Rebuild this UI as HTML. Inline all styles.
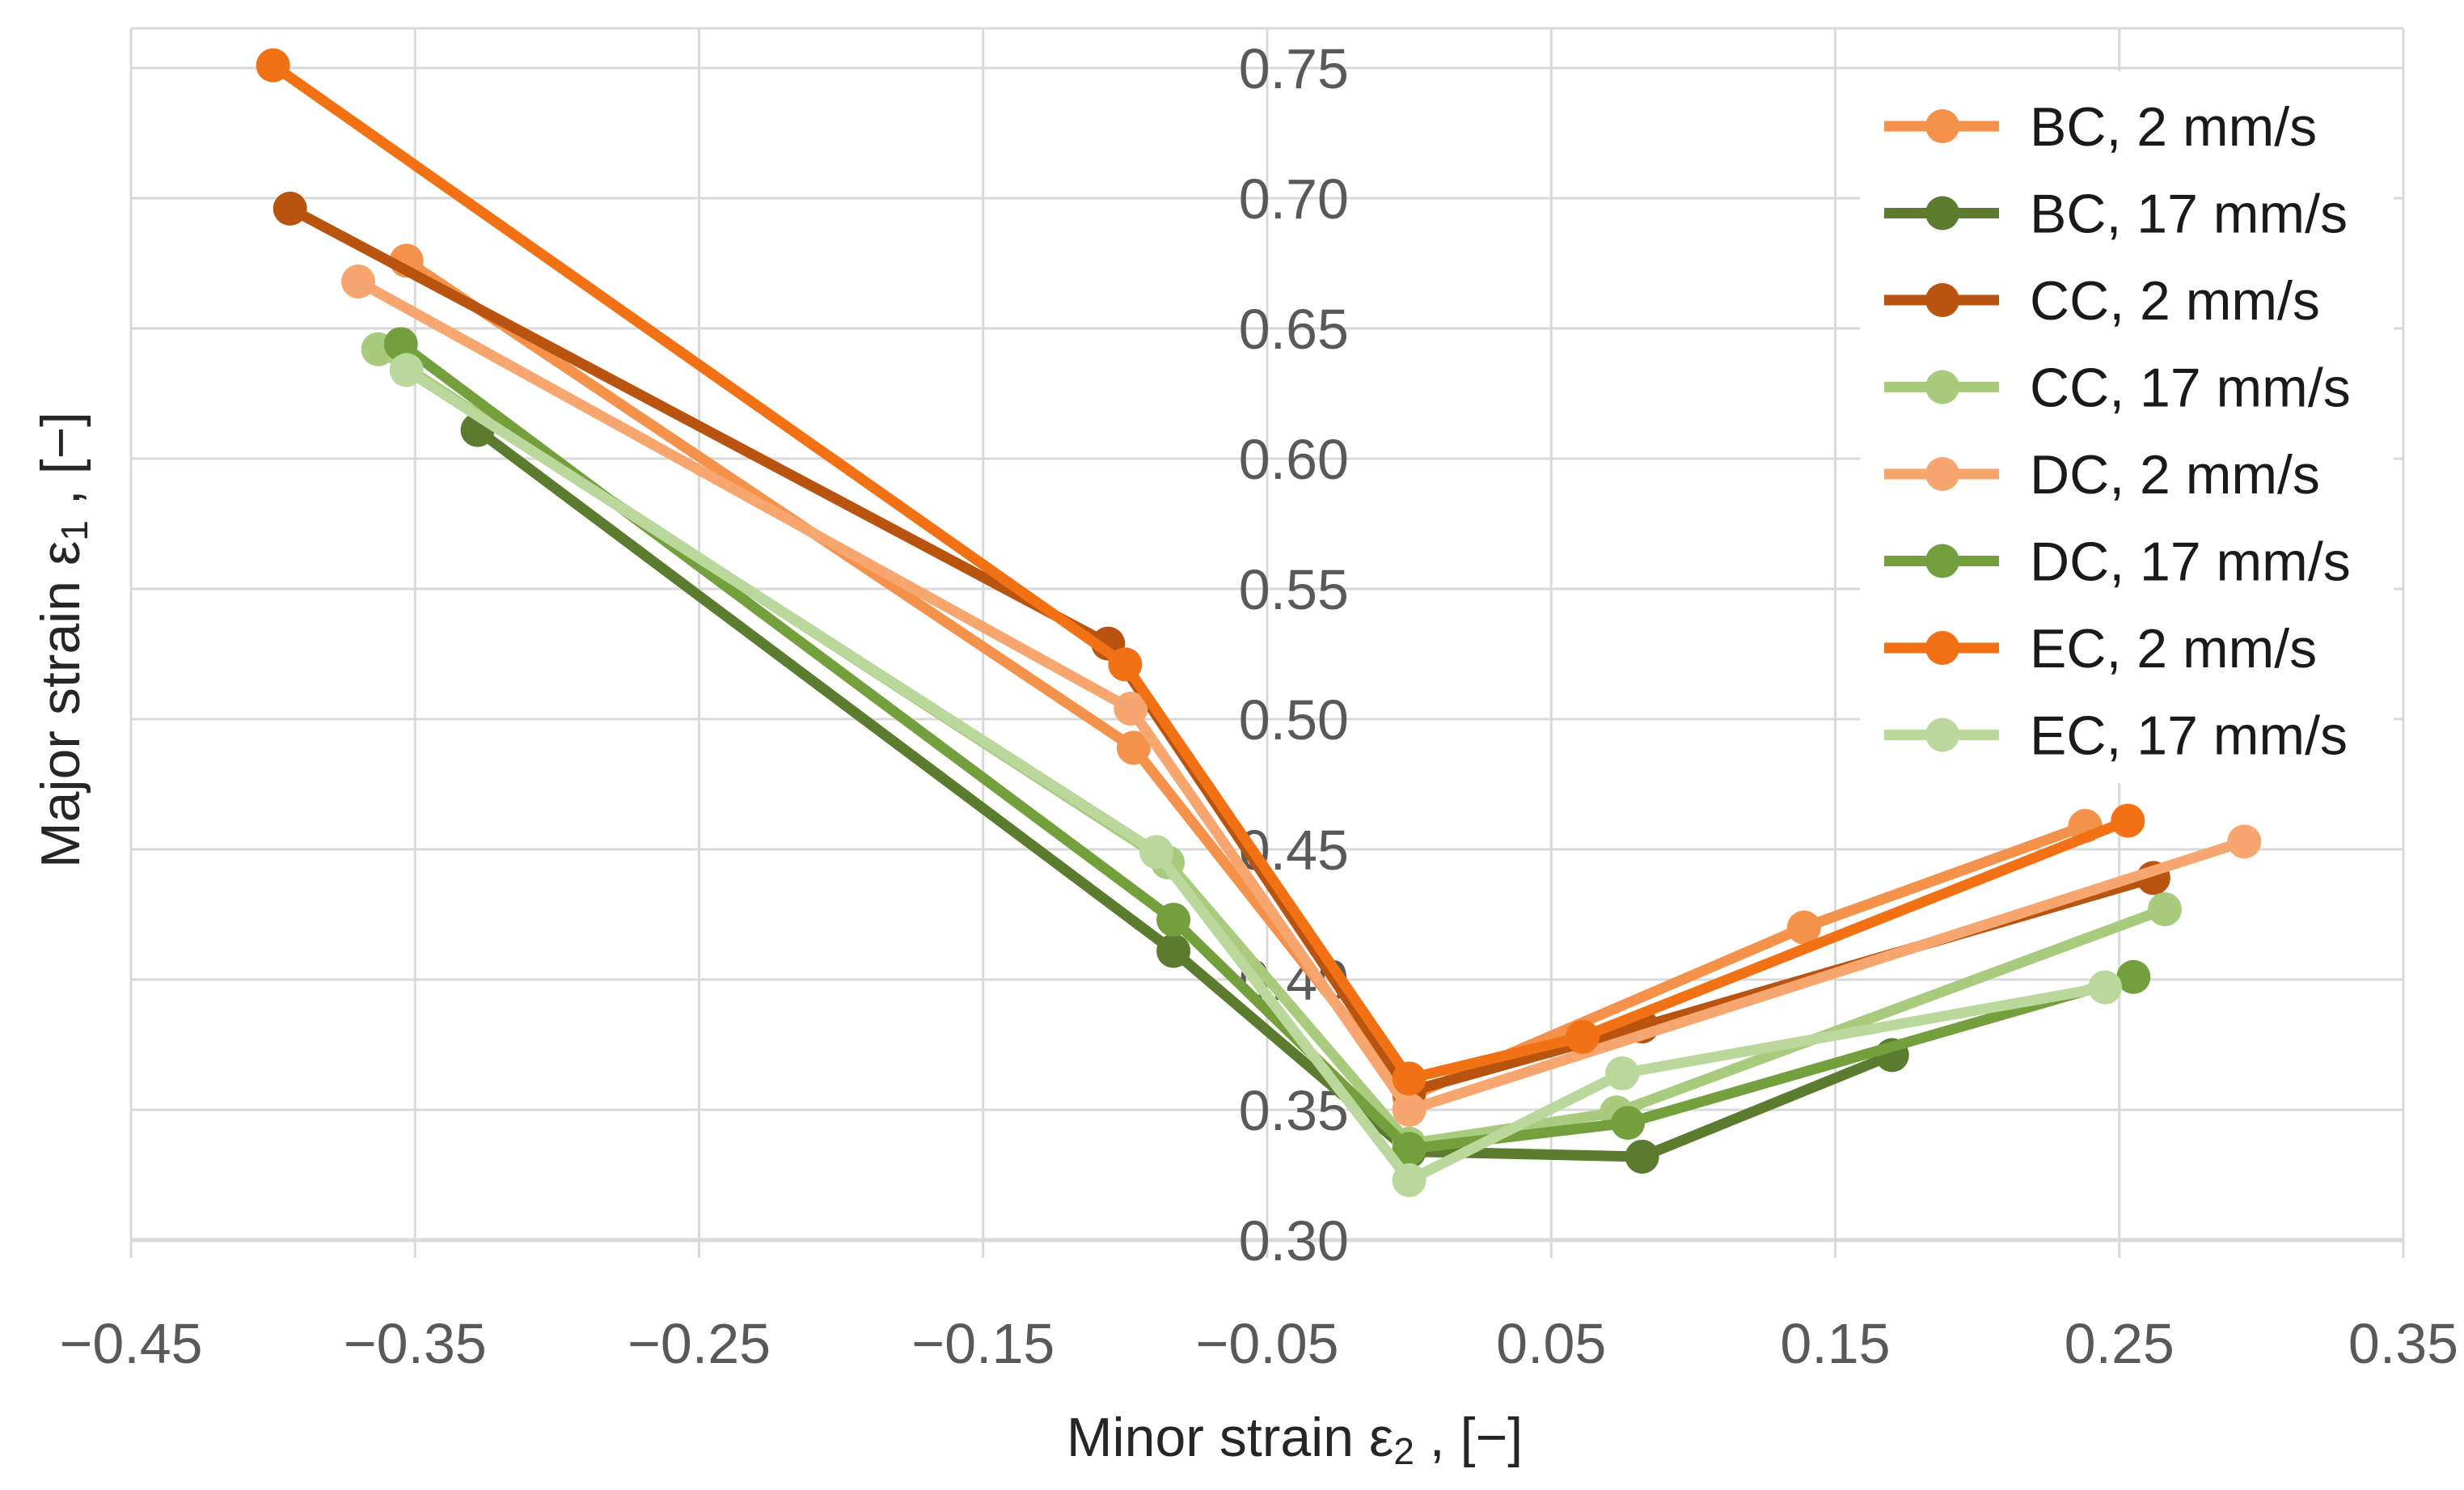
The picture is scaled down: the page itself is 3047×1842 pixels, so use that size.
<!DOCTYPE html>
<html><head><meta charset="utf-8"><style>
html,body{margin:0;padding:0;background:#fff;}
svg{display:block;font-family:"Liberation Sans",sans-serif;}
</style></head><body>
<svg id="chart" width="3047" height="1842" viewBox="0 0 3047 1842" xmlns="http://www.w3.org/2000/svg">
<rect x="0" y="0" width="3047" height="1842" fill="#fff"/>
<g id="grid"></g>
<g id="ylabels"></g>
<g id="xlabels"></g>
<g id="series"></g>
<g id="legend"></g>
<text x="1601" y="1800" font-size="68" fill="#262626" text-anchor="middle">Minor strain ε<tspan font-size="46" dy="10">2</tspan><tspan dy="-10"> , [−]</tspan></text>
<text transform="translate(98,791) rotate(-90)" font-size="68" fill="#262626" text-anchor="middle">Major strain ε<tspan font-size="46" dy="10">1</tspan><tspan dy="-10"> , [−]</tspan></text>
</svg>
<script>
const xTicks = [-0.45,-0.35,-0.25,-0.15,-0.05,0.05,0.15,0.25,0.35];
const xTickLabels = ["−0.45","−0.35","−0.25","−0.15","−0.05","0.05","0.15","0.25","0.35"];
const yTicks = [0.30,0.35,0.40,0.45,0.50,0.55,0.60,0.65,0.70,0.75];
const yTickLabels = ["0.30","0.35","0.40","0.45","0.50","0.55","0.60","0.65","0.70","0.75"];
const seriesNames = ["BC, 2 mm/s","BC, 17 mm/s","CC, 2 mm/s","CC, 17 mm/s","DC, 2 mm/s","DC, 17 mm/s","EC, 2 mm/s","EC, 17 mm/s"];
const seriesColors = ["#F4914A","#5B7B2E","#B8540F","#A8CB7E","#F8A66F","#73A03C","#F27114","#BBD89C"];
const bc2X = [-0.353,-0.097,0.000,0.139,0.238];
const bc2Y = [0.676,0.489,0.355,0.420,0.459];
const bc17X = [-0.328,-0.083,0.000,0.082,0.170];
const bc17Y = [0.611,0.411,0.334,0.332,0.371];
const cc2X = [-0.394,-0.106,0.000,0.082,0.262];
const cc2Y = [0.696,0.529,0.357,0.382,0.439];
const cc17X = [-0.363,-0.085,0.000,0.073,0.266];
const cc17Y = [0.642,0.445,0.337,0.349,0.427];
const dc2X = [-0.370,-0.098,0.000,0.294];
const dc2Y = [0.668,0.504,0.350,0.453];
const dc17X = [-0.355,-0.083,0.000,0.077,0.255];
const dc17Y = [0.644,0.423,0.335,0.345,0.401];
const ec2X = [-0.400,-0.100,0.000,0.061,0.253];
const ec2Y = [0.751,0.521,0.362,0.378,0.461];
const ec17X = [-0.353,-0.089,0.000,0.075,0.245];
const ec17Y = [0.634,0.449,0.323,0.364,0.397];

const allX = [bc2X,bc17X,cc2X,cc17X,dc2X,dc17X,ec2X,ec17X];
const allY = [bc2Y,bc17Y,cc2Y,cc17Y,dc2Y,dc17Y,ec2Y,ec17Y];

const NS="http://www.w3.org/2000/svg";
function sx(v){return 162+(v+0.45)*3512.5;}
function sy(v){return 1533-(v-0.30)*3220;}
function mk(tag,attrs,parent){const e=document.createElementNS(NS,tag);for(const k in attrs)e.setAttribute(k,attrs[k]);parent.appendChild(e);return e;}
const grid=document.getElementById('grid');
const plotTop=35;
xTicks.forEach(function(t){
  const l=mk('line',{x1:sx(t),x2:sx(t),y1:plotTop,y2:1555,stroke:'#d9d9d9','stroke-width':3},grid);
  
  
});
yTicks.forEach(function(t,i){
  const l=mk('line',{x1:162,x2:2972,y1:sy(t),y2:sy(t),stroke:'#d9d9d9','stroke-width':i==0?5:3},grid);
  
  
});
const tb=mk('line',{x1:162,x2:2972,y1:plotTop,y2:plotTop,stroke:'#d9d9d9','stroke-width':3},grid);


const yl=document.getElementById('ylabels');
yTicks.forEach(function(t,i){
  const e=mk('text',{x:1668,y:sy(t)+25,'font-size':70,fill:'#595959','text-anchor':'end'},yl);
  e.textContent=yTickLabels[i];
  
  
});
const xl=document.getElementById('xlabels');
xTicks.forEach(function(t,i){
  const e=mk('text',{x:sx(t),y:1685,'font-size':70,fill:'#595959','text-anchor':'middle'},xl);
  e.textContent=xTickLabels[i];
  
  
});
const sg=document.getElementById('series');
allX.forEach(function(xs,si){
  const g=mk('g',{},sg);
  
  
  const pts=xs.map(function(x,j){return sx(x)+','+sy(allY[si][j]);}).join(' ');
  const pl=mk('polyline',{points:pts,fill:'none',stroke:seriesColors[si],'stroke-width':13,'stroke-linejoin':'round'},g);
  
  
  xs.forEach(function(x,j){
    const c=mk('circle',{cx:sx(x),cy:sy(allY[si][j]),r:21,fill:seriesColors[si]},g);
    
    
  });
});
const lg=document.getElementById('legend');
const bg=mk('rect',{x:2300,y:88,width:660,height:880,fill:'#fff'},lg);


seriesNames.forEach(function(n,i){
  const y=156+i*107.5;
  const g=mk('g',{},lg);
  
  
  mk('line',{x1:2330,x2:2472,y1:y,y2:y,stroke:seriesColors[i],'stroke-width':13},g);
  mk('circle',{cx:2402,cy:y,r:21,fill:seriesColors[i]},g);
  const t=mk('text',{x:2510,y:y+24,'font-size':68,fill:'#1a1a1a'},g);
  t.textContent=n;
});
</script>
</body></html>
